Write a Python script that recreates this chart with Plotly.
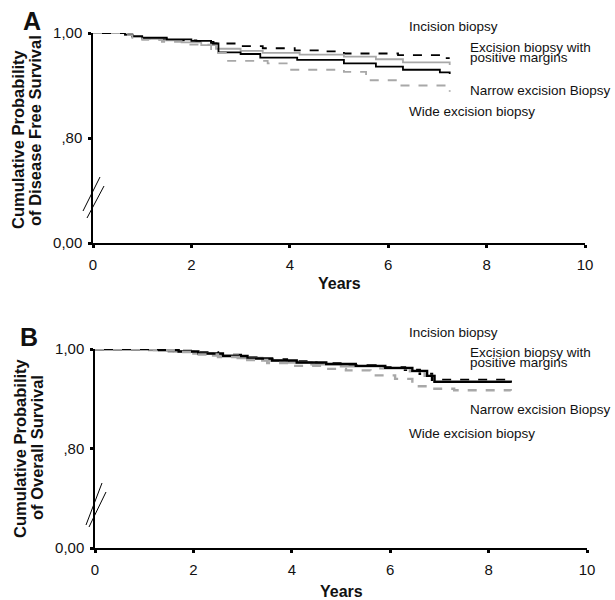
import plotly.graph_objects as go

W, H = 615, 600

# ---------------- data ----------------
groups = ["Incision biopsy", "Excision biopsy with positive margins",
          "Narrow excision Biopsy", "Wide excision biopsy"]

# Panel A: disease free survival
a_inc_t = [0, 0.65, 0.8, 1.0, 1.3, 1.7, 2.1, 2.45, 2.9, 3.45, 4.1, 4.6, 5.1, 6.2, 7.1, 7.25]
a_inc_s = [1.000, 0.997, 0.993, 0.990, 0.988, 0.986, 0.983, 0.980, 0.975, 0.971, 0.967, 0.965, 0.961, 0.958, 0.952, 0.952]
a_pos_t = [0, 0.65, 0.8, 1.0, 1.4, 1.8, 2.2, 2.5, 3.0, 3.45, 4.2, 5.1, 5.75, 6.3, 7.25]
a_pos_s = [1.000, 0.996, 0.992, 0.989, 0.986, 0.982, 0.977, 0.970, 0.966, 0.962, 0.959, 0.955, 0.950, 0.944, 0.939]
a_nar_t = [0, 0.65, 0.8, 1.0, 1.5, 2.0, 2.4, 2.55, 3.0, 3.4, 4.15, 5.1, 5.75, 6.3, 7.05, 7.25]
a_nar_s = [1.000, 0.997, 0.994, 0.991, 0.988, 0.985, 0.980, 0.963, 0.960, 0.953, 0.949, 0.942, 0.936, 0.930, 0.925, 0.922]
a_wid_t = [0, 0.65, 0.8, 1.0, 1.4, 1.85, 2.4, 2.7, 3.55, 4.0, 5.1, 5.55, 6.2, 7.2, 7.25]
a_wid_s = [1.000, 0.996, 0.991, 0.987, 0.983, 0.978, 0.962, 0.947, 0.942, 0.930, 0.926, 0.910, 0.900, 0.891, 0.888]

# Panel B: overall survival
b_inc_t = [0, 1.2, 1.6, 2.0, 2.5, 3.0, 3.4, 3.9, 4.5, 5.1, 5.7, 6.3, 6.6, 6.85, 8.45]
b_inc_s = [1.000, 0.999, 0.996, 0.993, 0.988, 0.983, 0.979, 0.975, 0.971, 0.967, 0.963, 0.958, 0.950, 0.938, 0.936]
b_pos_t = [0, 1.1, 1.5, 2.0, 2.4, 2.9, 3.4, 3.8, 4.4, 5.0, 5.8, 6.4, 6.7, 6.9, 8.45]
b_pos_s = [1.000, 0.998, 0.995, 0.991, 0.987, 0.982, 0.977, 0.973, 0.969, 0.965, 0.961, 0.955, 0.946, 0.935, 0.933]
b_nar_t = [0, 1.3, 1.7, 2.1, 2.6, 3.1, 3.6, 4.1, 4.7, 5.3, 5.9, 6.45, 6.75, 6.9, 8.45]
b_nar_s = [1.000, 0.998, 0.995, 0.991, 0.986, 0.981, 0.977, 0.973, 0.970, 0.966, 0.962, 0.956, 0.946, 0.934, 0.932]
b_wid_t = [0, 1.2, 1.6, 2.0, 2.5, 3.0, 3.5, 4.0, 4.6, 5.1, 5.6, 6.1, 6.45, 6.8, 7.3, 8.45]
b_wid_s = [1.000, 0.998, 0.994, 0.989, 0.984, 0.978, 0.972, 0.966, 0.960, 0.957, 0.947, 0.940, 0.925, 0.920, 0.917, 0.916]

x_ticks = [0, 2, 4, 6, 8, 10]
x_ticklabels = ["0", "2", "4", "6", "8", "10"]
# broken axis: the bottom tick (below the break) stands for 0,00
y_ticks = [0.6, 0.8, 1.0]
y_ticklabels = ["0,00", ",80", "1,00"]

# ---------------- helpers ----------------
def px(x):
    return x / W

def py(y):
    return 1 - y / H

FONT = "Liberation Sans, Arial, sans-serif"
BLACK = "#000000"
GRAY = "#a8a8a8"

styles = [
    dict(color=BLACK, dash="dash"),
    dict(color=GRAY, dash="solid"),
    dict(color=BLACK, dash="solid"),
    dict(color=GRAY, dash="dash"),
]

fig = go.Figure()

panelA = [(a_inc_t, a_inc_s), (a_pos_t, a_pos_s), (a_nar_t, a_nar_s), (a_wid_t, a_wid_s)]
panelB = [(b_inc_t, b_inc_s), (b_pos_t, b_pos_s), (b_nar_t, b_nar_s), (b_wid_t, b_wid_s)]

for (t, s), st, name in zip(panelA, styles, groups):
    fig.add_trace(go.Scatter(x=t, y=s, mode="lines", name=name, xaxis="x", yaxis="y",
                             line=dict(color=st["color"], dash=st["dash"], width=1.8, shape="hv"),
                             showlegend=False, cliponaxis=False))
for (t, s), st, name in zip(panelB, styles, groups):
    fig.add_trace(go.Scatter(x=t, y=s, mode="lines", name=name, xaxis="x2", yaxis="y2",
                             line=dict(color=st["color"], dash=st["dash"], width=2.4, shape="hv"),
                             showlegend=False, cliponaxis=False))

tickfont = dict(family=FONT, size=15, color="#111111")
common_x = dict(range=[0, 10], tickvals=x_ticks, ticktext=x_ticklabels, showline=True,
                linecolor=BLACK, linewidth=1.5, ticks="outside", ticklen=3, tickwidth=3,
                tickcolor=BLACK, showgrid=False, zeroline=False, tickfont=tickfont,
                ticklabelstandoff=4)
common_y = dict(range=[0.6, 1.0], tickvals=y_ticks, ticktext=y_ticklabels,
                showline=True, linecolor=BLACK, linewidth=1.5, ticks="outside", ticklen=3,
                tickwidth=3, tickcolor=BLACK, showgrid=False, zeroline=False, tickfont=tickfont,
                ticklabelstandoff=3)

fig.update_layout(
    width=W, height=H, margin=dict(l=0, r=0, t=0, b=0, autoexpand=False),
    plot_bgcolor="white", paper_bgcolor="white",
    xaxis=dict(domain=[px(93), px(585)], anchor="y", **common_x),
    yaxis=dict(domain=[py(243), py(33)], anchor="x", **common_y),
    xaxis2=dict(domain=[px(95), px(587)], anchor="y2", **common_x),
    yaxis2=dict(domain=[py(548), py(349)], anchor="x2", **common_y),
)

ann = []
def text(x, y, s, size=13.5, bold=False, xanchor="left", angle=0):
    ann.append(dict(x=px(x), y=py(y), xref="paper", yref="paper", text=("<b>%s</b>" % s) if bold else s,
                    showarrow=False, xanchor=xanchor, yanchor="middle", textangle=angle,
                    font=dict(family=FONT, size=size, color="#111111")))

# Panel letters
text(32, 21, "A", size=25, bold=True, xanchor="center")
text(29, 337, "B", size=25, bold=True, xanchor="center")

# Y titles
text(18, 139, "Cumulative Probability", size=16.5, bold=True, xanchor="center", angle=-90)
text(35, 131, "of Disease Free Survival", size=16.5, bold=True, xanchor="center", angle=-90)
text(20, 448, "Cumulative Probability", size=16.5, bold=True, xanchor="center", angle=-90)
text(37, 448, "of Overall Survival", size=16.5, bold=True, xanchor="center", angle=-90)

# X titles
text(339, 283, "Years", size=16, bold=True, xanchor="center")
text(341, 591, "Years", size=16, bold=True, xanchor="center")

# Group labels A
text(407, 26, groups[0])
text(468, 47, "Excision biopsy with")
text(468, 57.5, "positive margins")
text(468, 90, groups[2])
text(407, 111, groups[3])
# Group labels B
text(407, 332, groups[0])
text(468, 352, "Excision biopsy with")
text(468, 362.5, "positive margins")
text(468, 409, groups[2])
text(407, 433, groups[3])

fig.update_layout(annotations=ann)

# Axis break marks
shapes = []
for (x0, y0, x1, y1) in [(83, 211, 100, 177), (87, 218, 104, 186),
                         (86, 525, 102, 483), (89, 527, 106, 492)]:
    shapes.append(dict(type="line", xref="paper", yref="paper", x0=px(x0), y0=py(y0),
                       x1=px(x1), y1=py(y1), line=dict(color=BLACK, width=1)))
fig.update_layout(shapes=shapes)

fig.write_html("out.html", config={"displayModeBar": False},
               post_script="document.body.style.margin='0';document.documentElement.style.overflow='hidden';")
